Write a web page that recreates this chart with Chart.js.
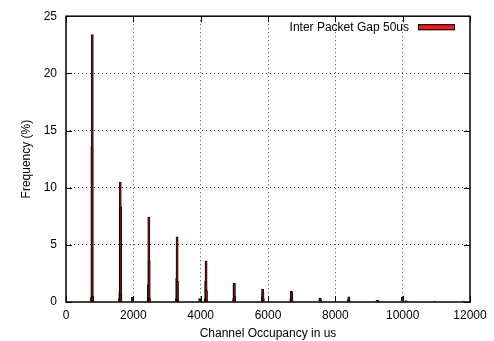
<!DOCTYPE html>
<html>
<head>
<meta charset="utf-8">
<script src="https://cdn.jsdelivr.net/npm/chart.js@4/dist/chart.umd.min.js"></script>
<style>
  html, body { margin: 0; padding: 0; background: #fff; }
  #wrap { width: 494px; height: 341px; }
</style>
</head>
<body>
<div id="wrap"><canvas id="c" width="494" height="341"></canvas></div>
<script>
// ------- data -------
const seriesLabel = 'Inter Packet Gap 50us';
// bin position in us
const binX = [
  750, 760, 770, 780, 790,
  1590, 1600, 1610, 1620, 1630,
  1970,
  2440, 2450, 2460, 2470, 2480,
  3280, 3290, 3300, 3310, 3320,
  3970,
  4140, 4150, 4160, 4170, 4180,
  4980, 4990, 5000, 5010,
  5830, 5840, 5850, 5860,
  6680, 6690, 6700, 6710,
  7540, 7550, 7560,
  8390, 8400, 8410,
  9240, 9250, 9260,
  9990,
  10100,
  10950,
  11800
];
// frequency in %
const freq = [
  0.2, 0.4, 13.6, 23.4, 0.5,
  0.3, 0.9, 10.5, 8.3, 0.7,
  0.4,
  0.2, 1.5, 7.4, 3.6, 0.3,
  0.3, 2.1, 5.7, 1.8, 0.2,
  0.3,
  0.3, 1.8, 3.6, 1.0, 0.2,
  0.3, 1.5, 1.65, 0.5,
  0.45, 1.1, 0.8, 0.3,
  0.3, 0.95, 0.9, 0.3,
  0.3, 0.32, 0.2,
  0.2, 0.46, 0.2,
  0.15, 0.17, 0.1,
  0.4,
  0.12,
  0.08,
  0.07
];
const xTicks = [0, 2000, 4000, 6000, 8000, 10000, 12000];
const yTicks = [0, 5, 10, 15, 20, 25];

const FONT = '"Liberation Sans", Arial, Helvetica, sans-serif';
const RED = '#ec1c24';

// ------- plugins -------
// frame, inward ticks on all four sides, legend in top right
const framePlugin = {
  id: 'frame',
  afterDatasetsDraw(chart) {
    const { ctx, chartArea: a, scales } = chart;
    const x = scales.x, y = scales.y;
    ctx.save();
    ctx.strokeStyle = '#000';
    ctx.lineWidth = 1;
    ctx.beginPath();
    const tl = 6;
    for (const v of xTicks) {
      const px = Math.round(x.getPixelForValue(v)) + 0.5;
      ctx.moveTo(px, a.bottom); ctx.lineTo(px, a.bottom - tl);
      ctx.moveTo(px, a.top); ctx.lineTo(px, a.top + tl);
    }
    for (const v of yTicks) {
      const py = Math.round(y.getPixelForValue(v)) + 0.5;
      ctx.moveTo(a.left, py); ctx.lineTo(a.left + tl, py);
      ctx.moveTo(a.right, py); ctx.lineTo(a.right - tl, py);
    }
    ctx.stroke();
    ctx.lineWidth = 1.5;
    ctx.strokeRect(a.left, a.top, a.right - a.left, a.bottom - a.top);

    // legend
    const sw = { x: a.right - 52, y: a.top + 8, w: 37, h: 6 };
    ctx.fillStyle = RED;
    ctx.fillRect(sw.x, sw.y, sw.w, sw.h);
    ctx.lineWidth = 1;
    ctx.strokeRect(sw.x + 0.5, sw.y + 0.5, sw.w - 1, sw.h - 1);
    ctx.fillStyle = '#000';
    ctx.font = '12px ' + FONT;
    ctx.textAlign = 'right';
    ctx.textBaseline = 'middle';
    ctx.fillText(seriesLabel, sw.x - 9, sw.y + 3);
    ctx.restore();
  }
};

const edge = (v, lo, hi) => v === lo || v === hi;

new Chart(document.getElementById('c'), {
  type: 'bar',
  data: {
    datasets: [{
      label: seriesLabel,
      data: binX.map((x, i) => ({ x, y: freq[i] })),
      backgroundColor: '#8a0d12',
      borderColor: '#000',
      borderWidth: 0.8,
      borderSkipped: 'start',
      barThickness: 2.2
    }]
  },
  options: {
    animation: false,
    responsive: false,
    events: [],
    layout: { padding: { top: 15, right: 24, left: 0, bottom: 0 } },
    plugins: { legend: { display: false }, tooltip: { enabled: false } },
    scales: {
      x: {
        type: 'linear',
        offset: false,
        min: 0, max: 12000,
        afterFit: s => { s.height = 39; },
        afterBuildTicks: s => { s.ticks = xTicks.map(v => ({ value: v })); },
        ticks: { color: '#000', font: { family: FONT, size: 12 }, padding: 6, maxRotation: 0, autoSkip: false,
                 callback: v => String(v) },
        grid: {
          drawTicks: false, offset: false,
          color: c => edge(c.tick && c.tick.value, 0, 12000) ? 'rgba(0,0,0,0)' : '#444',
          lineWidth: 1
        },
        border: { display: false, dash: [1, 3] },
        title: { display: true, text: 'Channel Occupancy in us', color: '#000', font: { family: FONT, size: 12 }, padding: { top: 8, bottom: 0 } }
      },
      y: {
        min: 0, max: 25,
        afterFit: s => { s.width = 66; },
        afterBuildTicks: s => { s.ticks = yTicks.map(v => ({ value: v })); },
        ticks: { color: '#000', font: { family: FONT, size: 12 }, padding: 9, callback: v => String(v) },
        grid: {
          drawTicks: false,
          color: c => edge(c.tick && c.tick.value, 0, 25) ? 'rgba(0,0,0,0)' : '#444',
          lineWidth: 1
        },
        border: { display: false, dash: [1, 3] },
        title: { display: true, text: 'Frequency (%)', color: '#000', font: { family: FONT, size: 12 }, padding: { top: 19, bottom: 0 } }
      }
    }
  },
  plugins: [framePlugin]
});
</script>
</body>
</html>
